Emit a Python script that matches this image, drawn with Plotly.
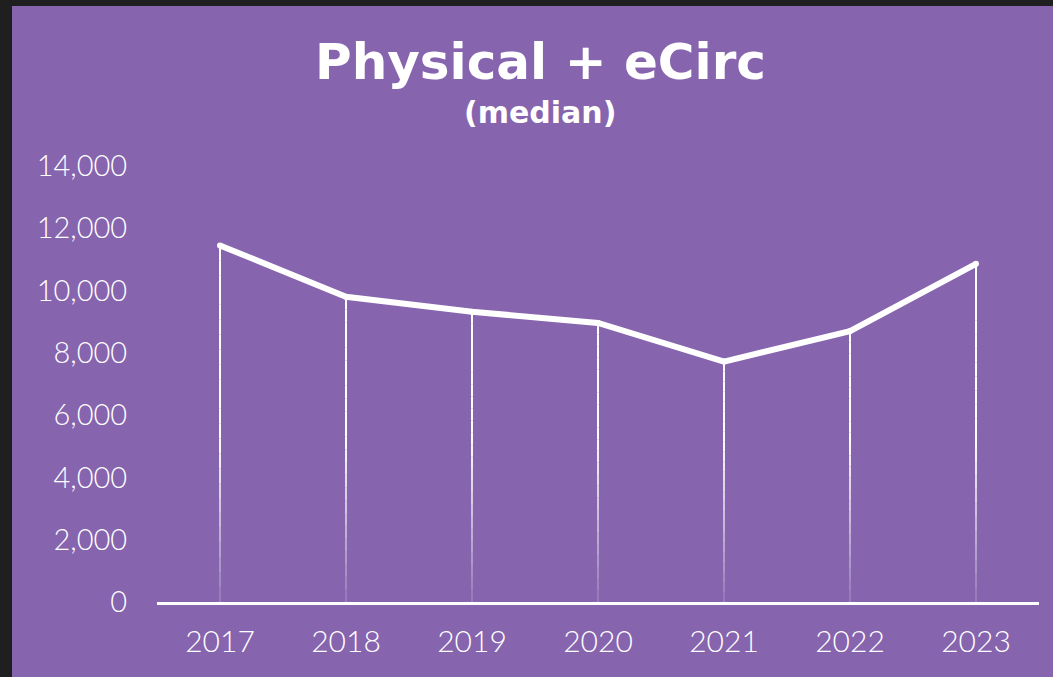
import plotly.graph_objects as go

years = ["2017", "2018", "2019", "2020", "2021", "2022", "2023"]
median_circ = [11450, 9800, 9320, 8960, 7720, 8700, 10860]
y_ticks = [0, 2000, 4000, 6000, 8000, 10000, 12000, 14000]
y_tick_labels = ["0", "2,000", "4,000", "6,000", "8,000", "10,000", "12,000", "14,000"]

W, H = 1053, 677
L, R, T, B = 157, 14, 166, 75
PURPLE = "#8664AE"
DARK = "#1f1f1f"

fig = go.Figure()

# drop lines with fading gradient toward the axis
n_seg = 24
for yr, v in zip(years, median_circ):
    for k in range(n_seg):
        y0 = v * k / n_seg
        y1 = v * (k + 1) / n_seg
        mid = (y0 + y1) / 2
        a = min(1.0, 0.12 + mid / 6000)
        fig.add_trace(go.Scatter(
            x=[yr, yr], y=[y0, y1], mode="lines",
            line=dict(color=f"rgba(255,255,255,{a:.3f})", width=2),
            hoverinfo="skip", showlegend=False))

fig.add_trace(go.Scatter(
    x=years, y=median_circ, mode="lines+markers",
    line=dict(color="white", width=6),
    marker=dict(color="white", size=6),
    showlegend=False))

pw = W - L - R
ph = H - T - B
# dark frame strips (top and left)
fig.add_shape(type="rect", xref="paper", yref="paper",
              x0=-L / pw, x1=(12 - L) / pw, y0=-B / ph, y1=(H - B) / ph,
              fillcolor=DARK, line_width=0, layer="below")
fig.add_shape(type="rect", xref="paper", yref="paper",
              x0=-L / pw, x1=(W - L) / pw, y0=(H - 6 - B) / ph, y1=(H - B) / ph,
              fillcolor=DARK, line_width=0, layer="below")

fig.add_annotation(text="<b>Physical + eCirc</b>", xref="paper", yref="paper",
                   x=(540 - L) / pw, y=(H - 62 - B) / ph, showarrow=False,
                   xanchor="center", yanchor="middle",
                   font=dict(family="DejaVu Sans", size=50, color="white"))
fig.add_annotation(text="<b>(median)</b>", xref="paper", yref="paper",
                   x=(540 - L) / pw, y=(H - 113 - B) / ph, showarrow=False,
                   xanchor="center", yanchor="middle",
                   font=dict(family="DejaVu Sans", size=30, color="white"))

fig.update_layout(
    width=W, height=H,
    margin=dict(l=L, r=R, t=T, b=B, pad=0),
    paper_bgcolor=PURPLE, plot_bgcolor=PURPLE,
    xaxis=dict(type="category", range=[-0.5, 6.5], showgrid=False,
               showline=True, linecolor="white", linewidth=3,
               ticks="outside", ticklen=11, tickcolor="rgba(0,0,0,0)",
               tickfont=dict(family="Lato", size=30, color="white", weight=300),
               zeroline=False),
    yaxis=dict(range=[0, 14000], tickvals=y_ticks, ticktext=y_tick_labels,
               showgrid=False, showline=False, zeroline=False,
               ticks="outside", ticklen=23, tickcolor="rgba(0,0,0,0)",
               tickfont=dict(family="Lato", size=29, color="white", weight=300)),
)

fig.write_html("out.html", config={"displayModeBar": False},
               post_script="document.body.style.margin='0';document.body.style.overflow='hidden';")
